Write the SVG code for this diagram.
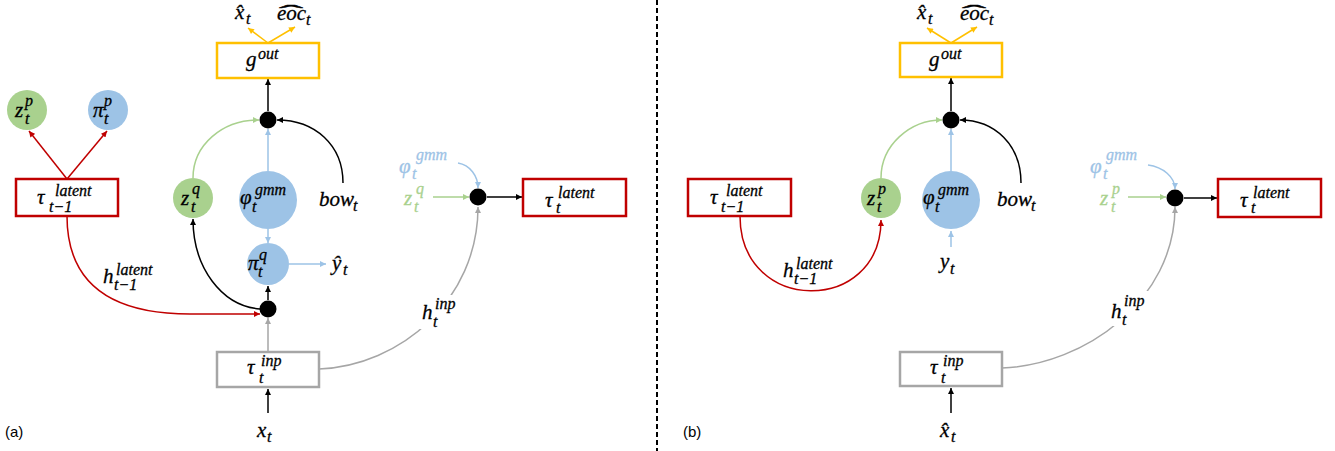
<svg xmlns="http://www.w3.org/2000/svg" width="1335" height="451" viewBox="0 0 1335 451">
<style>
.m{font-family:"Liberation Serif","DejaVu Serif",serif;font-style:italic;font-size:21px;fill:#000;stroke:#000;stroke-width:0.3px}
.s{font-size:16px}
.h{font-style:normal;font-size:22px;stroke-width:0.4px}
.lb{fill:#9DC3E6;stroke:#9DC3E6}
.lg{fill:#A9D18E;stroke:#A9D18E}
.tag{font-family:"Liberation Sans","Open Sans",sans-serif;font-size:15px;fill:#000}
.c{fill:none;stroke-width:1.5}
.k{stroke:#000}.r{stroke:#C00000}.o{stroke:#FFC000}.g{stroke:#A9D18E}.b{stroke:#9DC3E6}.y{stroke:#A6A6A6}
.box{fill:#fff;stroke-width:2.5}
.dot{fill:#000}
</style>
<defs>
<marker id="ak" viewBox="0 0 10 10" refX="10" refY="5" markerWidth="7" markerHeight="6" markerUnits="userSpaceOnUse" orient="auto"><path d="M0,0 L10,5 L0,10 z" fill="#000"/></marker>
<marker id="ar" viewBox="0 0 10 10" refX="10" refY="5" markerWidth="7" markerHeight="6" markerUnits="userSpaceOnUse" orient="auto"><path d="M0,0 L10,5 L0,10 z" fill="#C00000"/></marker>
<marker id="ao" viewBox="0 0 10 10" refX="10" refY="5" markerWidth="7" markerHeight="6" markerUnits="userSpaceOnUse" orient="auto"><path d="M0,0 L10,5 L0,10 z" fill="#FFC000"/></marker>
<marker id="ag" viewBox="0 0 10 10" refX="10" refY="5" markerWidth="7" markerHeight="6" markerUnits="userSpaceOnUse" orient="auto"><path d="M0,0 L10,5 L0,10 z" fill="#A9D18E"/></marker>
<marker id="ab" viewBox="0 0 10 10" refX="10" refY="5" markerWidth="7" markerHeight="6" markerUnits="userSpaceOnUse" orient="auto"><path d="M0,0 L10,5 L0,10 z" fill="#9DC3E6"/></marker>
<marker id="ay" viewBox="0 0 10 10" refX="10" refY="5" markerWidth="7" markerHeight="6" markerUnits="userSpaceOnUse" orient="auto"><path d="M0,0 L10,5 L0,10 z" fill="#A6A6A6"/></marker>
</defs>
<rect width="1335" height="451" fill="#fff"/>

<g id="connectors">
<!-- panel a -->
<path class="c o" d="M268,43 L248,28" marker-end="url(#ao)"/>
<path class="c o" d="M268,43 L295,27" marker-end="url(#ao)"/>
<path class="c k" d="M268,111 L268,79" marker-end="url(#ak)"/>
<path class="c g" d="M193,178 C193,145 222,120 259,120" marker-end="url(#ag)"/>
<path class="c k" d="M343,183 C343,145 315,120 277,120" marker-end="url(#ak)"/>
<path class="c b" d="M268,171 L268,129" marker-end="url(#ab)"/>
<path class="c b" d="M268,229 L268,243" marker-end="url(#ab)"/>
<path class="c b" d="M289,264 L326,264" marker-end="url(#ab)"/>
<path class="c k" d="M268,300 L268,286" marker-end="url(#ak)"/>
<path class="c k" d="M260,309 C222,306 193,268 193,219" marker-end="url(#ak)"/>
<path class="c r" d="M67,216 C67,290 120,314 190,314 L260,314" marker-end="url(#ar)"/>
<path class="c r" d="M67,179 L29,131" marker-end="url(#ar)"/>
<path class="c r" d="M67,179 L107,131" marker-end="url(#ar)"/>
<path class="c y" d="M268,352 L268,318" marker-end="url(#ay)"/>
<path class="c k" d="M268,413 L268,389" marker-end="url(#ak)"/>
<path class="c y" d="M319,369 C400,366 478,300 478,207" marker-end="url(#ay)"/>
<path class="c b" d="M458,163 C470,165 478,176 478,188" marker-end="url(#ab)"/>
<path class="c g" d="M433,197 L469,197" marker-end="url(#ag)"/>
<path class="c k" d="M487,197 L522,197" marker-end="url(#ak)"/>
<!-- divider -->
<path d="M657,0 L657,451" stroke="#000" stroke-width="2" stroke-dasharray="5,3"/>
<!-- panel b -->
<path class="c o" d="M951,43 L927,28" marker-end="url(#ao)"/>
<path class="c o" d="M951,43 L977,27" marker-end="url(#ao)"/>
<path class="c k" d="M951,111 L951,78" marker-end="url(#ak)"/>
<path class="c g" d="M881,178 C881,145 910,120 942,120" marker-end="url(#ag)"/>
<path class="c k" d="M1021,183 C1021,145 995,120 960,120" marker-end="url(#ak)"/>
<path class="c b" d="M951,171 L951,129" marker-end="url(#ab)"/>
<path class="c b" d="M951,247 L951,231" marker-end="url(#ab)"/>
<path class="c r" d="M740,216 C740,315 881,315 881,220" marker-end="url(#ar)"/>
<path class="c k" d="M951,413 L951,388" marker-end="url(#ak)"/>
<path class="c y" d="M1002,368 C1085,365 1175,300 1175,207" marker-end="url(#ay)"/>
<path class="c b" d="M1148,165 C1163,167 1175,177 1175,189" marker-end="url(#ab)"/>
<path class="c g" d="M1128,197 L1166,197" marker-end="url(#ag)"/>
<path class="c k" d="M1184,198 L1217,198" marker-end="url(#ak)"/>
</g>

<!-- ===== panel (a) nodes ===== -->
<g id="a-xhat-out"><text class="m"><tspan x="235" y="19">x̂</tspan><tspan class="s" x="246" y="24">t</tspan></text></g>
<g id="a-eoc-out"><text class="m"><tspan x="277" y="20">eoc</tspan><tspan class="s" x="306" y="25">t</tspan><tspan class="h" x="279" y="20" textLength="24" lengthAdjust="spacingAndGlyphs">ˆ</tspan></text></g>
<g id="a-gout"><rect class="box o" x="217" y="43" width="102" height="35"/><text class="m"><tspan x="246" y="66">g</tspan><tspan class="s" x="258" y="59">out</tspan></text></g>
<g id="a-zp"><circle cx="27" cy="110" r="20" fill="#A9D18E"/><text class="m"><tspan x="15" y="117">z</tspan><tspan class="s" x="25" y="106">p</tspan><tspan class="s" x="25" y="124">t</tspan></text></g>
<g id="a-pip"><circle cx="108" cy="110" r="20" fill="#9DC3E6"/><text class="m"><tspan x="93" y="117">π</tspan><tspan class="s" x="104" y="106">p</tspan><tspan class="s" x="104" y="124">t</tspan></text></g>
<g id="a-tau-prev"><rect class="box r" x="16" y="179" width="102" height="37"/><text class="m"><tspan x="37" y="204">τ</tspan><tspan class="s" x="55" y="196">latent</tspan><tspan class="s" x="49" y="212">t−1</tspan></text></g>
<g id="a-dot-out"><circle class="dot" cx="268" cy="120" r="8.5"/></g>
<g id="a-zq"><circle cx="193" cy="198" r="20" fill="#A9D18E"/><text class="m"><tspan x="181" y="205">z</tspan><tspan class="s" x="192" y="194">q</tspan><tspan class="s" x="191" y="212">t</tspan></text></g>
<g id="a-phi"><circle cx="268" cy="200" r="29" fill="#9DC3E6"/><text class="m"><tspan x="240" y="204">φ</tspan><tspan class="s" x="255" y="195">gmm</tspan><tspan class="s" x="252" y="212">t</tspan></text></g>
<g id="a-bow"><text class="m"><tspan x="319" y="206">bow</tspan><tspan class="s" x="353" y="211">t</tspan></text></g>
<g id="a-piq"><circle cx="268" cy="264" r="21" fill="#9DC3E6"/><text class="m"><tspan x="248" y="270">π</tspan><tspan class="s" x="259" y="260">q</tspan><tspan class="s" x="258" y="277">t</tspan></text></g>
<g id="a-yhat"><text class="m"><tspan x="332" y="270">ŷ</tspan><tspan class="s" x="343" y="275">t</tspan></text></g>
<g id="a-dot-mid"><circle class="dot" cx="268" cy="309" r="8.5"/></g>
<g id="a-hlat"><text class="m"><tspan x="103" y="283">h</tspan><tspan class="s" x="116" y="275">latent</tspan><tspan class="s" x="114" y="290">t−1</tspan></text></g>
<g id="a-tauinp"><rect class="box y" x="217" y="352" width="102" height="35"/><text class="m"><tspan x="247" y="374">τ</tspan><tspan class="s" x="261" y="366">inp</tspan><tspan class="s" x="259" y="383">t</tspan></text></g>
<g id="a-xt"><text class="m"><tspan x="257" y="437">x</tspan><tspan class="s" x="267" y="442">t</tspan></text></g>
<g id="a-hinp"><rect x="419" y="295" width="42" height="34" fill="#fff"/><text class="m"><tspan x="422" y="319">h</tspan><tspan class="s" x="435" y="309">inp</tspan><tspan class="s" x="433" y="327">t</tspan></text></g>
<g id="a-phi-in"><text class="m lb"><tspan x="399" y="173">φ</tspan><tspan class="s" x="416" y="160">gmm</tspan><tspan class="s" x="412" y="179">t</tspan></text></g>
<g id="a-zq-in"><text class="m lg"><tspan x="404" y="205">z</tspan><tspan class="s" x="416" y="194">q</tspan><tspan class="s" x="414" y="212">t</tspan></text></g>
<g id="a-dot-lat"><circle class="dot" cx="478" cy="197" r="8.5"/></g>
<g id="a-taulat"><rect class="box r" x="523" y="179" width="103" height="37"/><text class="m"><tspan x="545" y="207">τ</tspan><tspan class="s" x="558" y="198">latent</tspan><tspan class="s" x="556" y="213">t</tspan></text></g>
<g id="a-tag"><text class="tag" x="5" y="437">(a)</text></g>

<!-- ===== panel (b) nodes ===== -->
<g id="b-xhat-out"><text class="m"><tspan x="917" y="19">x̂</tspan><tspan class="s" x="928" y="24">t</tspan></text></g>
<g id="b-eoc-out"><text class="m"><tspan x="960" y="20">eoc</tspan><tspan class="s" x="989" y="25">t</tspan><tspan class="h" x="962" y="20" textLength="24" lengthAdjust="spacingAndGlyphs">ˆ</tspan></text></g>
<g id="b-gout"><rect class="box o" x="900" y="43" width="102" height="34"/><text class="m"><tspan x="929" y="66">g</tspan><tspan class="s" x="941" y="59">out</tspan></text></g>
<g id="b-dot-out"><circle class="dot" cx="951" cy="120" r="8.5"/></g>
<g id="b-tau-prev"><rect class="box r" x="688" y="179" width="103" height="37"/><text class="m"><tspan x="710" y="204">τ</tspan><tspan class="s" x="726" y="196">latent</tspan><tspan class="s" x="721" y="212">t−1</tspan></text></g>
<g id="b-zp"><circle cx="881" cy="198" r="20" fill="#A9D18E"/><text class="m"><tspan x="867" y="205">z</tspan><tspan class="s" x="878" y="194">p</tspan><tspan class="s" x="877" y="212">t</tspan></text></g>
<g id="b-phi"><circle cx="951" cy="200" r="29" fill="#9DC3E6"/><text class="m"><tspan x="923" y="204">φ</tspan><tspan class="s" x="938" y="195">gmm</tspan><tspan class="s" x="935" y="212">t</tspan></text></g>
<g id="b-bow"><text class="m"><tspan x="997" y="206">bow</tspan><tspan class="s" x="1031" y="211">t</tspan></text></g>
<g id="b-yt"><text class="m"><tspan x="940" y="268">y</tspan><tspan class="s" x="950" y="274">t</tspan></text></g>
<g id="b-hlat"><text class="m"><tspan x="783" y="277">h</tspan><tspan class="s" x="796" y="269">latent</tspan><tspan class="s" x="794" y="284">t−1</tspan></text></g>
<g id="b-tauinp"><rect class="box y" x="900" y="352" width="102" height="34"/><text class="m"><tspan x="930" y="374">τ</tspan><tspan class="s" x="943" y="366">inp</tspan><tspan class="s" x="941" y="383">t</tspan></text></g>
<g id="b-xhat-in"><text class="m"><tspan x="940" y="437">x̂</tspan><tspan class="s" x="951" y="442">t</tspan></text></g>
<g id="b-hinp"><rect x="1108" y="291" width="42" height="35" fill="#fff"/><text class="m"><tspan x="1111" y="318">h</tspan><tspan class="s" x="1124" y="306">inp</tspan><tspan class="s" x="1122" y="325">t</tspan></text></g>
<g id="b-phi-in"><text class="m lb"><tspan x="1090" y="173">φ</tspan><tspan class="s" x="1106" y="160">gmm</tspan><tspan class="s" x="1103" y="179">t</tspan></text></g>
<g id="b-zp-in"><text class="m lg"><tspan x="1100" y="205">z</tspan><tspan class="s" x="1112" y="194">p</tspan><tspan class="s" x="1111" y="212">t</tspan></text></g>
<g id="b-dot-lat"><circle class="dot" cx="1175" cy="198" r="8.5"/></g>
<g id="b-taulat"><rect class="box r" x="1218" y="179" width="103" height="38"/><text class="m"><tspan x="1240" y="207">τ</tspan><tspan class="s" x="1253" y="198">latent</tspan><tspan class="s" x="1251" y="213">t</tspan></text></g>
<g id="b-tag"><text class="tag" x="683" y="437">(b)</text></g>
</svg>
